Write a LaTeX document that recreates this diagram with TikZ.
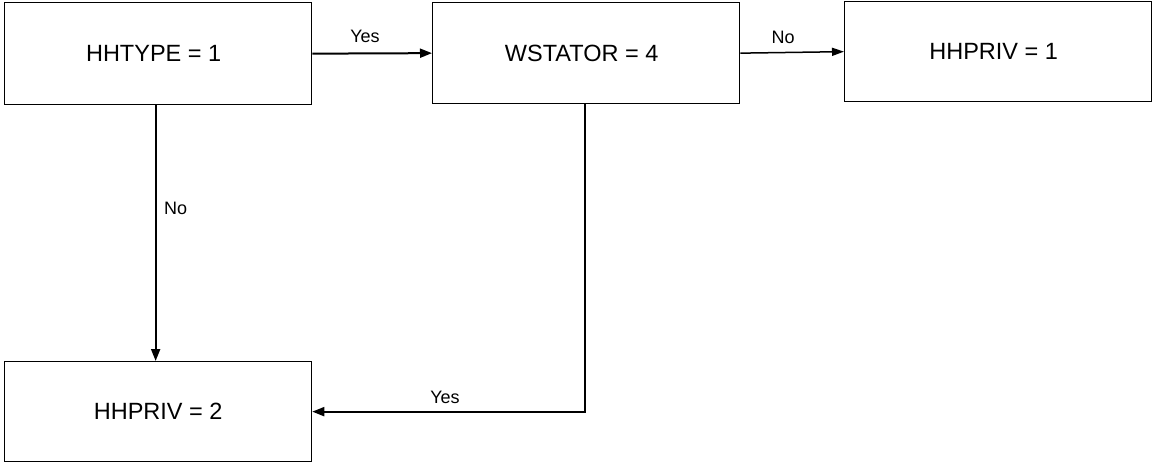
\documentclass[tikz,border=0pt]{standalone}
\usepackage{fontspec}
\setmainfont{Liberation Sans}
\usetikzlibrary{arrows.meta}
\begin{document}
\begin{tikzpicture}[x=1pt,y=-1pt,
  box/.style={draw, line width=1.3pt, minimum width=307pt, minimum height=101pt,
    inner sep=0pt, font=\fontsize{23.5}{26}\selectfont, anchor=north west},
  conn/.style={line width=2pt, -{Triangle[length=12pt,width=9pt]}},
  thinconn/.style={line width=1.5pt, -{Triangle[length=12pt,width=8pt]}},
  lbl/.style={font=\fontsize{18}{21}\selectfont, inner sep=0pt}]
\useasboundingbox (0,0) rectangle (1154,463);
\node[box, minimum height=102pt] (t) at (4,2) {HHTYPE = 1\kern9pt};
\node[box] (w) at (432,2) {WSTATOR = 4\kern9pt};
\node[box, minimum width=307pt, minimum height=100pt] (p1) at (844,1) {HHPRIV = 1\kern9pt};
\node[box, minimum height=100pt] (p2) at (4,361) {HHPRIV = 2};
\draw[conn] (t.east) -- (w.west);
\node[lbl] (l1) at (365,36) {Yes};
\draw[thinconn] (w.east) -- (p1.west);
\node[lbl] (l2) at (783,37) {No};
\draw[conn] ([xshift=-2.5pt]t.south) -- ([xshift=-2.5pt]p2.north);
\node[lbl, anchor=west] (l3) at (164,208) {No};
\draw[conn] ([xshift=-1.5pt]w.south) -- ([xshift=-1.5pt]w.south |- p2.east) -- (p2.east);
\node[lbl] (l4) at (445,397) {Yes};
\end{tikzpicture}
\end{document}
